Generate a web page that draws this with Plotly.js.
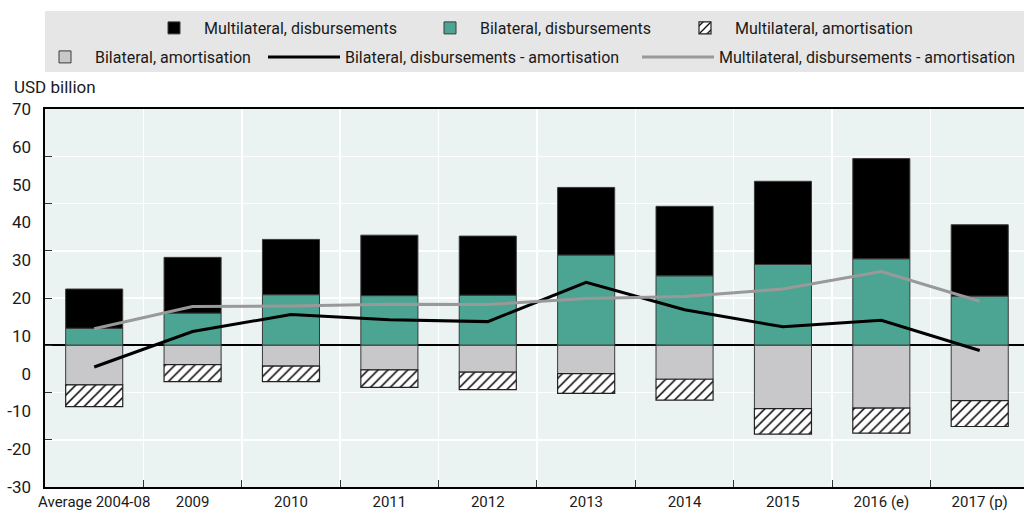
<!DOCTYPE html>
<html>
<head>
<meta charset="utf-8">
<script src="https://cdn.plot.ly/plotly-3.0.1.min.js"></script>
<style>
html,body{margin:0;padding:0;background:#fff;}
#chart{width:1024px;height:516px;}
</style>
</head>
<body>
<div id="chart"></div>
<script>
// ---- data (USD billion) ----
var categories = ['Average 2004-08','2009','2010','2011','2012','2013','2014','2015','2016 (e)','2017 (p)'];
var bilateralDisbursements   = [3.6, 6.8, 10.7, 10.5, 10.6, 19.1, 14.7, 17.1, 18.3, 10.4];
var multilateralDisbursements = [8.3, 11.8, 11.7, 12.8, 12.5, 14.3, 14.7, 17.6, 21.2, 15.1];
var bilateralAmortisation    = [-8.4, -4.1, -4.4, -5.2, -5.7, -6.0, -7.2, -13.4, -13.3, -11.7];
var multilateralAmortisation = [-4.6, -3.6, -3.3, -3.7, -3.7, -4.2, -4.4, -5.4, -5.3, -5.5];
var bilateralNet    = [-4.6, 2.9, 6.5, 5.4, 5.0, 13.3, 7.5, 3.9, 5.3, -1.1];
var multilateralNet = [3.5, 8.2, 8.3, 8.7, 8.6, 9.9, 10.3, 11.9, 15.6, 9.3];
var labelTicks = [-30, -20, -10, 0, 10, 20, 30, 40, 50, 60, 70];

var FONT = 'Roboto, "Liberation Sans", sans-serif';
var TXT = '#1a1a1a';
var outline = {color: '#3a3a3a', width: 1};

var traces = [
  {type: 'bar', name: 'Bilateral, disbursements', x: categories, y: bilateralDisbursements,
   marker: {color: '#4ca593', line: outline}, legend: 'legend', legendrank: 2, legendwidth: 190},
  {type: 'bar', name: 'Multilateral, disbursements', x: categories, y: multilateralDisbursements,
   marker: {color: '#000000', line: outline}, legend: 'legend', legendrank: 1, legendwidth: 211},
  {type: 'bar', name: 'Bilateral, amortisation', x: categories, y: bilateralAmortisation,
   marker: {color: '#c8c8ca', line: outline}, legend: 'legend2', legendrank: 4},
  {type: 'bar', name: 'Multilateral, amortisation', x: categories, y: multilateralAmortisation,
   marker: {color: '#ffffff', line: {color: '#222', width: 1.2},
            pattern: {shape: '/', fgcolor: '#000', bgcolor: '#fff', size: 7, solidity: 0.22, fillmode: 'replace'}},
   legend: 'legend', legendrank: 3},
  {type: 'scatter', mode: 'lines', name: 'Bilateral, disbursements - amortisation', x: categories, y: bilateralNet,
   line: {color: '#000000', width: 3}, legend: 'legend3', legendrank: 5, legendwidth: 287},
  {type: 'scatter', mode: 'lines', name: 'Multilateral, disbursements - amortisation', x: categories, y: multilateralNet,
   line: {color: '#999999', width: 3}, legend: 'legend3', legendrank: 6},
  // invisible helper trace so the label axis is drawn
  {type: 'scatter', mode: 'markers', x: [categories[0]], y: [0], yaxis: 'y2',
   marker: {opacity: 0}, showlegend: false, hoverinfo: 'skip'}
];

var legendFont = {family: FONT, size: 16, color: TXT};
var row1 = 1 + (109 - 28) / 378;
var row2 = 1 + (109 - 57) / 378;

var layout = {
  width: 1024, height: 516,
  margin: {l: 45, r: 0, t: 109, b: 29, pad: 0},
  paper_bgcolor: '#ffffff',
  plot_bgcolor: '#eaf3f1',
  barmode: 'relative',
  bargap: 0.42,
  font: {family: FONT, size: 16, color: TXT},
  showlegend: true,
  xaxis: {
    type: 'category', range: [-0.5, 9.45],
    tickson: 'boundaries', ticks: 'inside', ticklen: 7, tickcolor: '#333', tickwidth: 1,
    showgrid: true, gridcolor: '#ffffff', gridwidth: 1.5,
    showline: true, linecolor: '#000', linewidth: 2, mirror: true,
    tickangle: 0,
    tickfont: {family: FONT, size: 15, color: TXT},
    fixedrange: true
  },
  yaxis: {
    range: [-30, 50], dtick: 10, tick0: 0,
    showticklabels: false, ticks: 'inside', ticklen: 7, tickcolor: '#333',
    showgrid: true, gridcolor: '#ffffff', gridwidth: 1.5,
    zeroline: true, zerolinecolor: '#000', zerolinewidth: 2,
    showline: true, linecolor: '#000', linewidth: 2,
    fixedrange: true
  },
  yaxis2: {
    overlaying: 'y', side: 'left', range: [-30, 70],
    tickvals: labelTicks, ticktext: labelTicks.map(String),
    showgrid: false, zeroline: false, showline: false, ticks: '',
    ticklabelstandoff: 13,
    tickfont: {family: FONT, size: 17, color: TXT},
    fixedrange: true
  },
  legend: {
    orientation: 'h', x: (144 - 45) / 979, xanchor: 'left', y: row1, yanchor: 'middle',
    bgcolor: 'rgba(0,0,0,0)', font: legendFont, traceorder: 'normal', itemwidth: 50
  },
  legend2: {
    orientation: 'h', x: (35 - 45) / 979, xanchor: 'left', y: row2, yanchor: 'middle',
    bgcolor: 'rgba(0,0,0,0)', font: legendFont, traceorder: 'normal', itemwidth: 50
  },
  legend3: {
    orientation: 'h', x: (263 - 45) / 979, xanchor: 'left', y: row2, yanchor: 'middle',
    bgcolor: 'rgba(0,0,0,0)', font: legendFont, traceorder: 'normal', itemwidth: 72
  },
  shapes: [
    {type: 'rect', xref: 'paper', yref: 'paper', x0: 0, x1: 1.01,
     y0: 1 + (109 - 72) / 378, y1: 1 + (109 - 11) / 378,
     fillcolor: '#e6e6e6', line: {width: 0}, layer: 'below'}
  ],
  annotations: [
    {text: 'USD billion', xref: 'paper', yref: 'paper', x: -0.034, y: 1 + (109 - 87) / 378,
     xanchor: 'left', yanchor: 'middle', showarrow: false,
     font: {family: FONT, size: 17, color: TXT}}
  ]
};

Plotly.newPlot('chart', traces, layout, {displayModeBar: false, staticPlot: true});
</script>
</body>
</html>
